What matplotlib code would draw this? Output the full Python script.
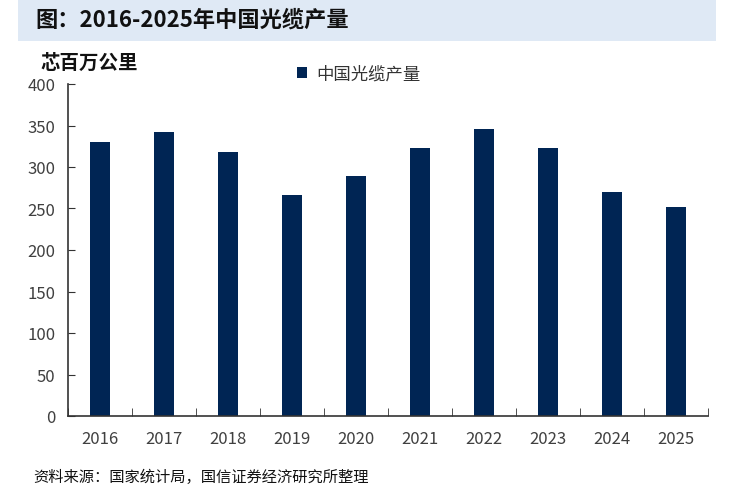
import matplotlib.pyplot as plt
from matplotlib.patches import Rectangle

plt.rcParams['font.family'] = ['Noto Sans CJK SC', 'DejaVu Sans']

# --- données ---
annees = ['2016', '2017', '2018', '2019', '2020', '2021', '2022', '2023', '2024', '2025']
production = [330, 342, 318, 266, 289, 323, 346, 323, 270, 252]
y_ticks = [0, 50, 100, 150, 200, 250, 300, 350, 400]

titre = '图：2016-2025年中国光缆产量'
unite = '芯百万公里'
legende = '中国光缆产量'
source = '资料来源：国家统计局，国信证券经济研究所整理'

bleu = '#002554'
W, H = 731, 489

fig = plt.figure(figsize=(W / 100, H / 100), dpi=100)

# bandeau du titre
fig.patches.append(Rectangle((18 / W, 1 - 42 / H), 698 / W, 42 / H,
                             transform=fig.transFigure, facecolor='#dfe9f5',
                             edgecolor='none', zorder=0))
fig.text(35 / W, 1 - 20 / H, titre, fontsize=16, fontweight='bold',
         va='center', ha='left', color='#111111')

ax = fig.add_axes([68 / W, (H - 417) / H, 640 / W, 332 / H])
x = range(len(annees))
ax.bar(x, production, width=0.31, color=bleu, label=legende, zorder=2)

ax.set_xlim(-0.5, len(annees) - 0.5)
ax.set_ylim(0, 400)
ax.set_yticks(y_ticks)
ax.set_xticks(list(x))
ax.set_xticklabels(annees)
ax.set_xticks([i - 0.5 for i in range(len(annees) + 1)], minor=True)

ax.tick_params(axis='y', direction='in', length=5, labelsize=12, pad=9,
               color='#333333', labelcolor='#404040')
ax.tick_params(axis='x', which='major', length=0, labelsize=12, pad=10,
               labelcolor='#404040')
ax.tick_params(axis='x', which='minor', direction='in', length=6, color='#333333')

for s in ['top', 'right']:
    ax.spines[s].set_visible(False)
for s in ['left', 'bottom']:
    ax.spines[s].set_color('#333333')
    ax.spines[s].set_linewidth(1.2)

fig.text(40 / W, 1 - 63 / H, unite, fontsize=14, fontweight='bold',
         va='center', ha='left', color='#111111')

leg = ax.legend(loc='center left', bbox_to_anchor=(297 / W, 1 - 75 / H),
                bbox_transform=fig.transFigure, frameon=False, borderpad=0,
                borderaxespad=0, prop={'size': 12.5}, handlelength=0.6,
                handleheight=0.6, handletextpad=0.5)
for t in leg.get_texts():
    t.set_color('#333333')

fig.text(33 / W, 1 - 477 / H, source, fontsize=11, va='center', ha='left',
         color='#111111')

fig.savefig('out.png', dpi=100)
